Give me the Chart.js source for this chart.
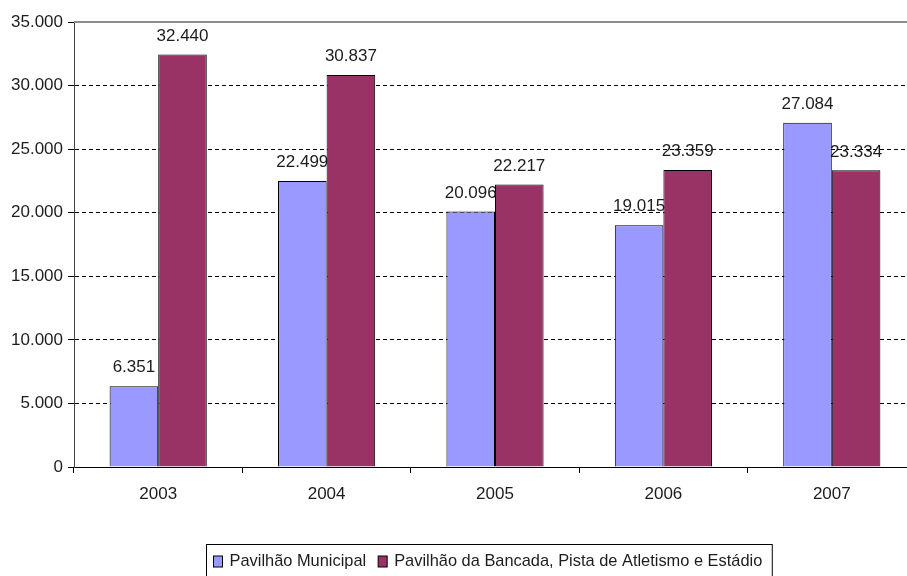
<!DOCTYPE html>
<html>
<head>
<meta charset="utf-8">
<script src="https://cdn.jsdelivr.net/npm/chart.js@4.4.1/dist/chart.umd.min.js"></script>
<style>
  html, body { margin: 0; padding: 0; background: #fff; overflow: hidden; }
  #wrap { width: 920px; height: 576px; }
</style>
</head>
<body>
<div id="wrap"><canvas id="myChart" width="920" height="576"></canvas></div>
<script>
const years = ["2003", "2004", "2005", "2006", "2007"];
const municipal = [6351, 22499, 20096, 19015, 27084];
const bancada = [32440, 30837, 22217, 23359, 23334];
const seriesNames = [
  "Pavilhão Municipal",
  "Pavilhão da Bancada, Pista de Atletismo e Estádio",
];
const yTicks = [0, 5000, 10000, 15000, 20000, 25000, 30000, 35000];

const FONT = "'Liberation Sans', Arial, sans-serif";
const TEXT = "#1c1c1c";

// 32440 -> "32.440"
function fmt(v) {
  return String(v).replace(/\B(?=(\d{3})+(?!\d))/g, ".");
}

// value labels above each bar
const barLabels = {
  id: "barLabels",
  afterDatasetsDraw(chart) {
    const ctx = chart.ctx;
    ctx.save();
    ctx.font = "17px " + FONT;
    ctx.fillStyle = TEXT;
    ctx.textAlign = "center";
    ctx.textBaseline = "bottom";
    chart.data.datasets.forEach((ds, i) => {
      chart.getDatasetMeta(i).data.forEach((bar, j) => {
        ctx.fillText(fmt(ds.data[j]), bar.x, bar.y - 10);
      });
    });
    ctx.restore();
  },
};

// plot area top border
const frame = {
  id: "frame",
  beforeDatasetsDraw(chart) {
    const { ctx, chartArea } = chart;
    ctx.save();
    ctx.strokeStyle = "#8c8c8c";
    ctx.lineWidth = 2;
    ctx.beginPath();
    ctx.moveTo(chartArea.left, chartArea.top);
    ctx.lineTo(chartArea.right, chartArea.top);
    ctx.stroke();
    ctx.restore();
  },
};

// boxed legend under the axis
const boxLegend = {
  id: "boxLegend",
  afterDraw(chart) {
    const ctx = chart.ctx;
    const datasets = chart.data.datasets;
    ctx.save();
    ctx.font = "16.4px " + FONT;
    const sw = 9, sh = 11, gap = 7, itemGap = 12, padL = 7, padR = 10;
    let w = padL;
    datasets.forEach((ds, i) => {
      w += sw + gap + ctx.measureText(ds.label).width + (i < datasets.length - 1 ? itemGap : 0);
    });
    w += padR;
    const cx = 489, top = 544.5, midY = 561.5;
    let x = Math.round(cx - w / 2) + 0.5;
    ctx.strokeStyle = "#000";
    ctx.lineWidth = 1;
    ctx.strokeRect(x, top, w, 40);
    x += padL;
    datasets.forEach((ds) => {
      ctx.fillStyle = ds.backgroundColor;
      ctx.fillRect(x, midY - sh / 2, sw, sh);
      ctx.strokeRect(x, midY - sh / 2, sw, sh);
      x += sw + gap;
      ctx.fillStyle = TEXT;
      ctx.textBaseline = "middle";
      ctx.fillText(ds.label, x, midY);
      x += ctx.measureText(ds.label).width + itemGap;
    });
    ctx.restore();
  },
};

new Chart(document.getElementById("myChart"), {
  type: "bar",
  data: {
    labels: years,
    datasets: [
      {
        label: seriesNames[0],
        data: municipal,
        backgroundColor: "#9999ff",
        borderColor: "#000",
        borderWidth: 1,
        barPercentage: 1,
        categoryPercentage: 0.577,
      },
      {
        label: seriesNames[1],
        data: bancada,
        backgroundColor: "#993366",
        borderColor: "#000",
        borderWidth: 1,
        barPercentage: 1,
        categoryPercentage: 0.577,
      },
    ],
  },
  options: {
    responsive: false,
    animation: false,
    layout: { padding: { top: 22, right: 4, left: 0, bottom: 0 } },
    plugins: {
      legend: { display: false },
      tooltip: { enabled: false },
    },
    scales: {
      x: {
        afterFit: (s) => { s.height = 109; },
        grid: {
          offset: true,
          drawOnChartArea: false,
          drawTicks: true,
          tickLength: 6,
          tickColor: "#000",
        },
        border: { display: true, color: "#000", width: 1 },
        ticks: {
          color: TEXT,
          font: { family: FONT, size: 17 },
          padding: 11,
        },
      },
      y: {
        min: 0,
        max: 35000,
        afterFit: (s) => { s.width = 74; },
        afterBuildTicks: (s) => { s.ticks = yTicks.map((v) => ({ value: v })); },
        grid: {
          color: (c) => (c.tick && c.tick.value > 0 && c.tick.value < 35000 ? "#000" : "rgba(0,0,0,0)"),
          tickColor: "#000",
          tickLength: 6,
          lineWidth: 1,
        },
        border: { display: true, color: "#444", width: 1, dash: [4, 3] },
        ticks: {
          color: TEXT,
          font: { family: FONT, size: 17 },
          padding: 5,
          callback: (v) => fmt(v),
        },
      },
    },
  },
  plugins: [frame, barLabels, boxLegend],
});
</script>
</body>
</html>
